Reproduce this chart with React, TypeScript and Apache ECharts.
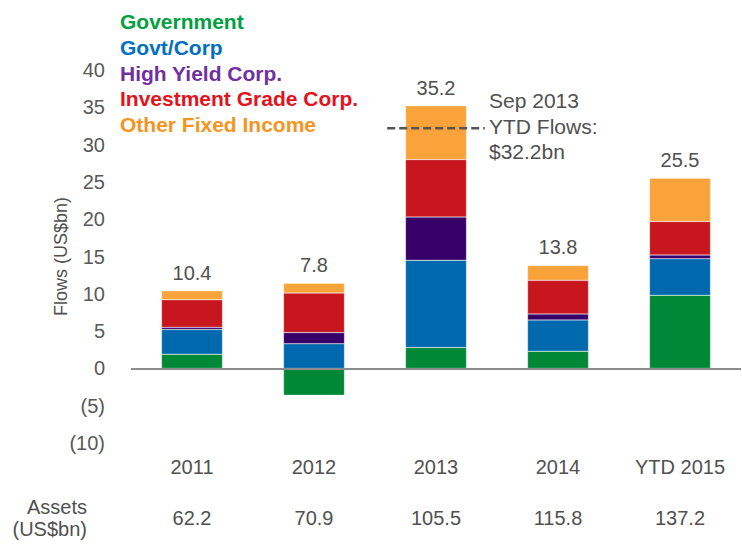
import React, { useEffect, useRef } from "react";
import * as echarts from "echarts";

const categories = ["2011", "2012", "2013", "2014", "YTD 2015"];
const assets = ["62.2", "70.9", "105.5", "115.8", "137.2"];
const totals = ["10.4", "7.8", "35.2", "13.8", "25.5"];

const government = [1.9, -3.6, 2.8, 2.3, 9.8];
const govtCorp = [3.3, 3.3, 11.7, 4.2, 4.9];
const highYield = [0.3, 1.5, 5.8, 0.8, 0.5];
const investmentGrade = [3.7, 5.3, 7.7, 4.5, 4.5];
const otherFixed = [1.2, 1.3, 7.2, 2.0, 5.8];

const sep2013Ytd = 32.2;
const sepLineSpan = [2.1, 2.9]; // position along category index space (0..5)

const seriesNames = [
  "Government",
  "Govt/Corp",
  "High Yield Corp.",
  "Investment Grade Corp.",
  "Other Fixed Income",
];
const barColors = ["#008837", "#0068AC", "#370068", "#C8161E", "#F9A33A"];
const legendColors = ["#00A040", "#0070C0", "#7030A0", "#E3121B", "#F7941D"];

const FONT = "'Liberation Sans', Arial, sans-serif";
const GRAY = "#505050";

export default function App() {
  const ref = useRef<HTMLDivElement>(null);
  useEffect(() => {
    if (!ref.current) return;
    const chart = echarts.init(ref.current, null, { renderer: "svg" });
    const values = [government, govtCorp, highYield, investmentGrade, otherFixed];
    const barSeries = values.map((d, i) => ({
      name: seriesNames[i],
      type: "bar",
      stack: "flows",
      xAxisIndex: 0,
      yAxisIndex: 0,
      barWidth: "50%",
      data: d,
      itemStyle: { color: barColors[i], borderColor: "rgba(255,255,255,0.5)", borderWidth: 0.5 },
      label:
        i === values.length - 1
          ? {
              show: true,
              position: "top",
              distance: 8,
              formatter: (p: any) => totals[p.dataIndex],
              color: GRAY,
              fontSize: 20,
              fontFamily: FONT,
            }
          : { show: false },
      markLine:
        i === 0
          ? {
              silent: true,
              symbol: "none",
              label: { show: false },
              lineStyle: { color: "#8c8c8c", type: "solid", width: 2 },
              data: [{ yAxis: 0 }],
            }
          : undefined,
    }));

    chart.setOption({
      animation: false,
      backgroundColor: "#ffffff",
      textStyle: { fontFamily: FONT },
      legend: {
        orient: "vertical",
        left: 110,
        top: 6,
        itemWidth: 0,
        itemHeight: 0,
        itemGap: 4.75,
        icon: "none",
        selectedMode: false,
        data: seriesNames.map((n, i) => ({
          name: n,
          textStyle: {
            color: legendColors[i],
            fontSize: 21,
            lineHeight: 21,
            fontWeight: "bold",
            fontFamily: FONT,
          },
        })),
      },
      grid: { left: 131, right: 1, top: 70, bottom: 105 },
      xAxis: [
        {
          type: "category",
          data: categories,
          position: "bottom",
          axisLine: { show: false },
          axisTick: { show: false },
          axisLabel: { color: GRAY, fontSize: 20, margin: 14, fontFamily: FONT },
        },
        {
          type: "category",
          data: assets,
          position: "bottom",
          offset: 51,
          axisLine: { show: false },
          axisTick: { show: false },
          axisLabel: { color: GRAY, fontSize: 20, margin: 14, fontFamily: FONT },
        },
        {
          type: "value",
          min: 0,
          max: categories.length,
          show: false,
        },
      ],
      yAxis: {
        type: "value",
        min: -10,
        max: 40,
        interval: 5,
        name: "Flows (US$bn)",
        nameLocation: "middle",
        nameGap: 61,
        nameMoveOverlap: false,
        nameTextStyle: { color: GRAY, fontSize: 18, fontFamily: FONT },
        axisLine: { show: false },
        axisTick: { show: false },
        splitLine: { show: false },
        axisLabel: {
          color: "#595959",
          fontSize: 20,
          margin: 26,
          fontFamily: FONT,
          formatter: (v: number) => (v < 0 ? `(${-v})` : `${v}`),
        },
      },
      series: [
        ...barSeries,
        {
          name: "Sep 2013 YTD",
          type: "line",
          xAxisIndex: 2,
          yAxisIndex: 0,
          symbol: "none",
          silent: true,
          data: [
            [sepLineSpan[0], sep2013Ytd],
            [sepLineSpan[1], sep2013Ytd],
          ],
          lineStyle: { color: "#555555", width: 2.5, type: [8, 4] },
        },
      ],
      graphic: [
        {
          type: "text",
          left: 489,
          top: 88,
          style: {
            text: "Sep 2013\nYTD Flows:\n$32.2bn",
            fill: GRAY,
            font: `21px ${FONT}`,
            lineHeight: 25.5,
          },
        },
        {
          type: "text",
          x: 87,
          y: 496,
          style: {
            text: "Assets\n(US$bn)",
            fill: GRAY,
            font: `20px ${FONT}`,
            lineHeight: 22,
            align: "right",
            verticalAlign: "top",
          },
        },
      ],
    });
    return () => chart.dispose();
  }, []);
  return (
    <div
      ref={ref}
      style={{ position: "fixed", left: 0, top: 0, width: 742, height: 548 }}
    />
  );
}
